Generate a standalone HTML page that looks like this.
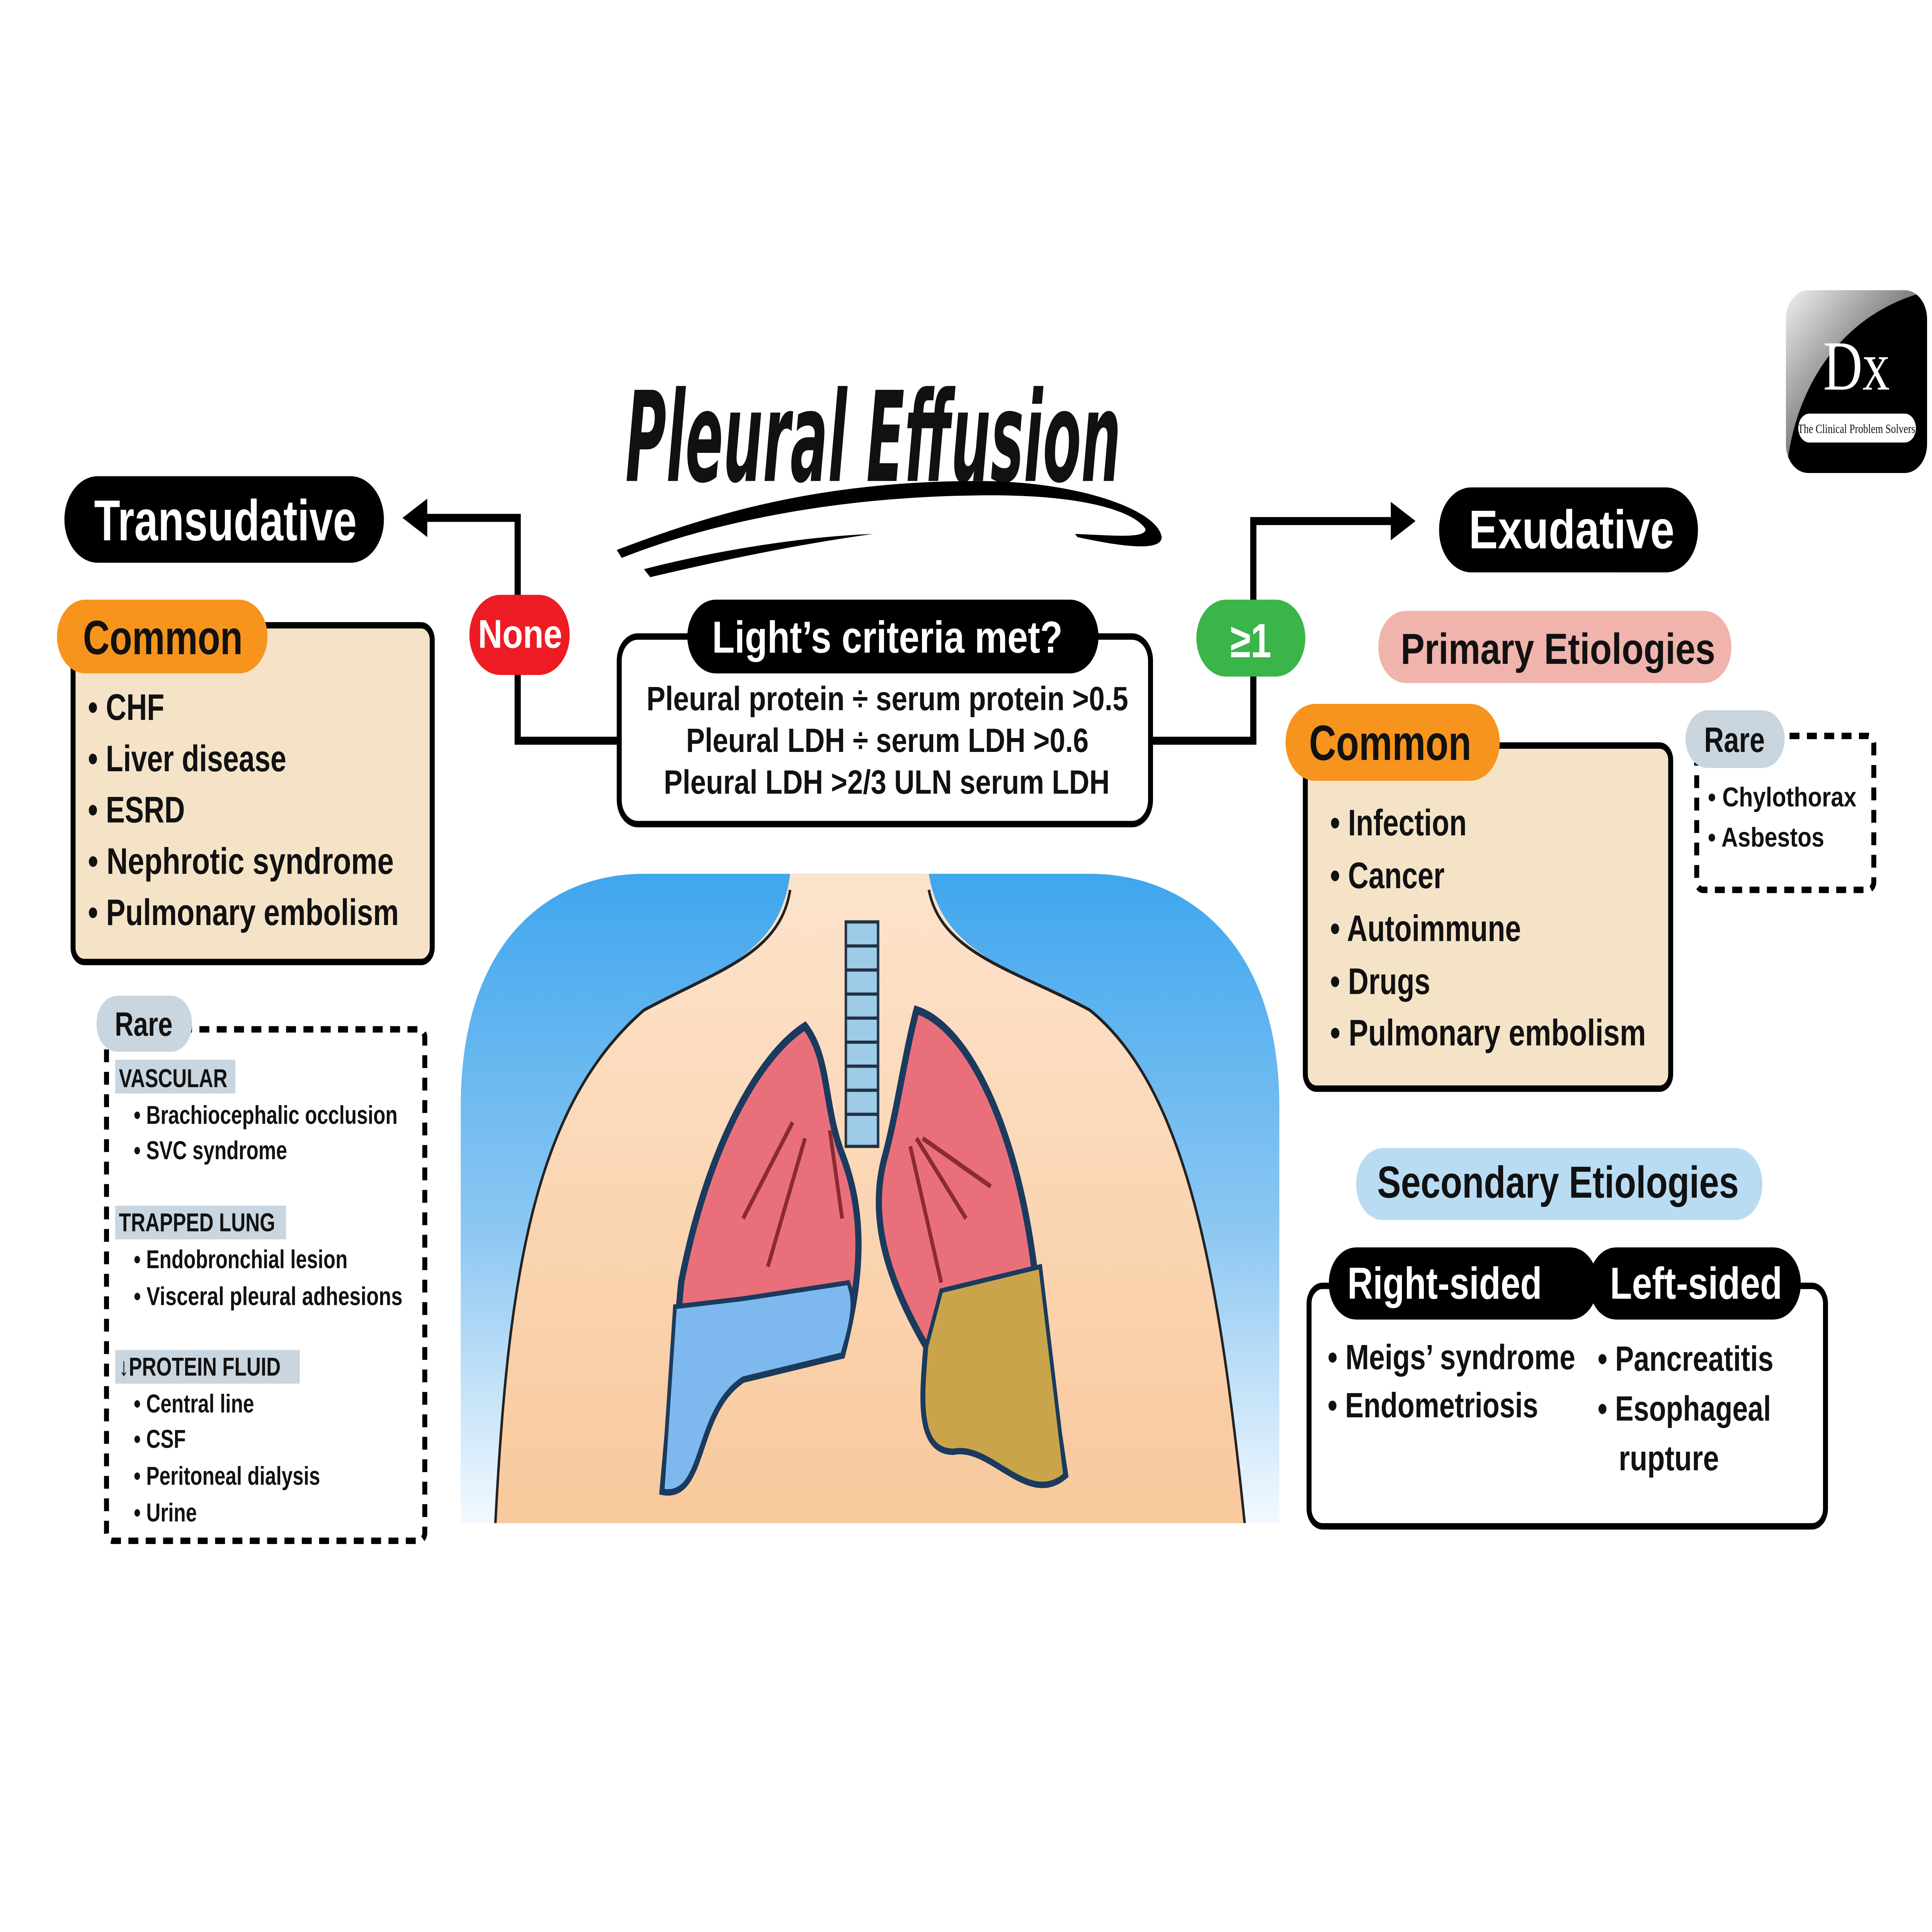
<!DOCTYPE html>
<html><head><meta charset="utf-8">
<style>
html,body{margin:0;padding:0;background:#fff;overflow:hidden;width:100vw;height:100vh}
svg{display:block;position:absolute;left:0;top:0;width:100vw;height:100vh}
text{font-family:"Liberation Sans",sans-serif;font-weight:bold;fill:#111}
.w{fill:#fff}
</style></head><body>
<svg viewBox="0 0 1560 1205" preserveAspectRatio="none" xmlns="http://www.w3.org/2000/svg">
<defs>
<linearGradient id="bg" x1="0" y1="0" x2="0" y2="1"><stop offset="0" stop-color="#3fa6ee"/><stop offset="0.55" stop-color="#8cc7f2"/><stop offset="1" stop-color="#f3f9fe"/></linearGradient>
<linearGradient id="sk" x1="0" y1="0" x2="0" y2="1"><stop offset="0" stop-color="#fde3cc"/><stop offset="1" stop-color="#f8c99c"/></linearGradient>
<linearGradient id="lg" x1="0" y1="0" x2="1" y2="1"><stop offset="0" stop-color="#f0f0f0"/><stop offset="0.5" stop-color="#777"/><stop offset="1" stop-color="#000"/></linearGradient>
<clipPath id="lc"><rect x="1442" y="181" width="114" height="114" rx="18"/></clipPath>
<clipPath id="bc"><path d="M372,950 L372,690 C372,590 440,545 520,545 L880,545 C960,545 1033,590 1033,690 L1033,950 Z"/></clipPath>
</defs>
<rect width="1560" height="1205" fill="#fff"/>

<!-- connectors -->
<polyline points="500,462 418,462 418,323 340,323" fill="none" stroke="#000" stroke-width="5"/>
<polygon points="325,323 345,311 345,335" fill="#000"/>
<polyline points="930,462 1012,462 1012,325 1128,325" fill="none" stroke="#000" stroke-width="5"/>
<polygon points="1143,325 1123,313 1123,337" fill="#000"/>

<!-- title -->
<text x="505" y="300" font-size="78" textLength="400" lengthAdjust="spacingAndGlyphs" style="font-family:'DejaVu Sans Condensed','DejaVu Sans',sans-serif;font-style:italic;font-weight:bold" fill="#000">Pleural Effusion</text>
<path d="M498,343 C560,325 650,300 790,300 C870,300 935,318 938,335 C938,345 900,340 870,335 L868,333 C900,334 925,336 925,330 C915,318 870,308 790,309 C660,310 560,330 502,348 Z" fill="#000"/>
<path d="M520,355 C570,345 640,335 705,333 C640,340 580,350 525,360 Z" fill="#000"/>

<!-- logo -->
<g clip-path="url(#lc)">
<rect x="1442" y="181" width="114" height="114" fill="url(#lg)"/>
<path d="M1442,300 C1445,250 1480,195 1560,181 L1560,300 Z" fill="#000"/>
</g>
<text x="1499" y="243" font-size="44" text-anchor="middle" class="w" style="font-family:'Liberation Serif',serif;font-weight:normal">Dx</text>
<rect x="1452" y="258" width="95" height="18" rx="9" fill="#fff"/>
<text x="1499" y="270" font-size="8" text-anchor="middle" style="font-family:'Liberation Serif',serif;font-weight:normal" fill="#000">The Clinical Problem Solvers</text>

<!-- Transudative -->
<rect x="52" y="297" width="258" height="54" rx="27" fill="#000"/>
<text x="76" y="337" font-size="36" textLength="212" lengthAdjust="spacingAndGlyphs" class="w">Transudative</text>
<rect x="59" y="390" width="290" height="210" rx="9" fill="#f5e3c8" stroke="#000" stroke-width="4"/>
<rect x="46" y="374" width="170" height="46" rx="23" fill="#f7941d"/>
<text x="67" y="408" font-size="30" textLength="129" lengthAdjust="spacingAndGlyphs">Common</text>
<g font-size="23">
<text x="71" y="449">• CHF</text>
<text x="71" y="481">• Liver disease</text>
<text x="71" y="513">• ESRD</text>
<text x="71" y="545" textLength="247" lengthAdjust="spacingAndGlyphs">• Nephrotic syndrome</text>
<text x="71" y="577" textLength="251" lengthAdjust="spacingAndGlyphs">• Pulmonary embolism</text>
</g>

<rect x="86" y="642" width="257" height="319" rx="5" fill="none" stroke="#000" stroke-width="4" stroke-dasharray="8,6"/>
<rect x="78" y="621" width="77" height="35" rx="17" fill="#c9d5df"/>
<text x="116" y="646" font-size="21" text-anchor="middle">Rare</text>
<g font-size="16">
<rect x="93" y="661" width="97" height="21" fill="#c9d5df"/>
<text x="96" y="678">VASCULAR</text>
<rect x="93" y="752" width="138" height="21" fill="#c9d5df"/>
<text x="96" y="768">TRAPPED LUNG</text>
<rect x="93" y="842" width="149" height="21" fill="#c9d5df"/>
<text x="96" y="858">↓PROTEIN FLUID</text>
</g>
<g font-size="16">
<text x="108" y="701" textLength="213" lengthAdjust="spacingAndGlyphs">• Brachiocephalic occlusion</text>
<text x="108" y="723">• SVC syndrome</text>
<text x="108" y="791">• Endobronchial lesion</text>
<text x="108" y="814" textLength="217" lengthAdjust="spacingAndGlyphs">• Visceral pleural adhesions</text>
<text x="108" y="881">• Central line</text>
<text x="108" y="903">• CSF</text>
<text x="108" y="926">• Peritoneal dialysis</text>
<text x="108" y="949">• Urine</text>
</g>

<!-- center -->
<rect x="500" y="397" width="429" height="117" rx="15" fill="#fff" stroke="#000" stroke-width="4"/>
<rect x="555" y="374" width="332" height="46" rx="23" fill="#000"/>
<text x="575" y="407" font-size="28" textLength="283" lengthAdjust="spacingAndGlyphs" class="w">Light’s criteria met?</text>
<g font-size="21">
<text x="522" y="443" textLength="389" lengthAdjust="spacingAndGlyphs">Pleural protein ÷ serum protein &gt;0.5</text>
<text x="554" y="469" textLength="325" lengthAdjust="spacingAndGlyphs">Pleural LDH ÷ serum LDH &gt;0.6</text>
<text x="536" y="495" textLength="360" lengthAdjust="spacingAndGlyphs">Pleural LDH &gt;2/3 ULN serum LDH</text>
</g>
<rect x="379" y="371" width="81" height="50" rx="25" fill="#ed1c24"/>
<text x="386" y="404" font-size="25" textLength="68" lengthAdjust="spacingAndGlyphs" class="w">None</text>
<rect x="966" y="374" width="88" height="48" rx="24" fill="#3ab54a"/>
<text x="1010" y="410" font-size="30" text-anchor="middle" class="w">≥1</text>

<!-- Exudative -->
<rect x="1162" y="304" width="209" height="53" rx="26" fill="#000"/>
<text x="1186" y="342" font-size="34" textLength="166" lengthAdjust="spacingAndGlyphs" class="w">Exudative</text>
<rect x="1113" y="381" width="285" height="45" rx="22" fill="#f0b4ac"/>
<text x="1131" y="414" font-size="27" textLength="254" lengthAdjust="spacingAndGlyphs">Primary Etiologies</text>
<rect x="1054" y="465" width="295" height="214" rx="9" fill="#f5e3c8" stroke="#000" stroke-width="4"/>
<rect x="1038" y="439" width="173" height="48" rx="24" fill="#f7941d"/>
<text x="1057" y="474" font-size="31" textLength="131" lengthAdjust="spacingAndGlyphs">Common</text>
<g font-size="23">
<text x="1074" y="521">• Infection</text>
<text x="1074" y="554">• Cancer</text>
<text x="1074" y="587">• Autoimmune</text>
<text x="1074" y="620">• Drugs</text>
<text x="1074" y="652" textLength="255" lengthAdjust="spacingAndGlyphs">• Pulmonary embolism</text>
</g>
<rect x="1370" y="459" width="143" height="96" rx="5" fill="none" stroke="#000" stroke-width="4" stroke-dasharray="8,6"/>
<rect x="1361" y="443" width="80" height="36" rx="18" fill="#c9d5df"/>
<text x="1376" y="469" font-size="22" textLength="49" lengthAdjust="spacingAndGlyphs">Rare</text>
<text x="1379" y="503" font-size="17" textLength="120" lengthAdjust="spacingAndGlyphs">• Chylothorax</text>
<text x="1379" y="528" font-size="17" textLength="94" lengthAdjust="spacingAndGlyphs">• Asbestos</text>

<rect x="1095" y="716" width="328" height="45" rx="22" fill="#b9dcf3"/>
<text x="1112" y="747" font-size="28" textLength="292" lengthAdjust="spacingAndGlyphs">Secondary Etiologies</text>
<rect x="1057" y="802" width="417" height="150" rx="11" fill="#fff" stroke="#000" stroke-width="4"/>
<rect x="1278" y="797" width="14" height="6" fill="#000"/>
<rect x="1073" y="778" width="217" height="45" rx="22" fill="#000"/>
<text x="1088" y="810" font-size="28" textLength="157" lengthAdjust="spacingAndGlyphs" class="w">Right-sided</text>
<rect x="1283" y="778" width="171" height="45" rx="22" fill="#000"/>
<text x="1300" y="810" font-size="28" textLength="139" lengthAdjust="spacingAndGlyphs" class="w">Left-sided</text>
<g font-size="22">
<text x="1072" y="854" textLength="200" lengthAdjust="spacingAndGlyphs">• Meigs’ syndrome</text>
<text x="1072" y="884" textLength="170" lengthAdjust="spacingAndGlyphs">• Endometriosis</text>
<text x="1290" y="855" textLength="142" lengthAdjust="spacingAndGlyphs">• Pancreatitis</text>
<text x="1290" y="886" textLength="140" lengthAdjust="spacingAndGlyphs">• Esophageal</text>
<text x="1307" y="917" textLength="81" lengthAdjust="spacingAndGlyphs">rupture</text>
</g>

<!-- illustration -->
<path d="M372,950 L372,690 C372,590 440,545 520,545 L880,545 C960,545 1033,590 1033,690 L1033,950 Z" fill="url(#bg)"/>
<g clip-path="url(#bc)">
<path d="M400,950 C410,800 430,690 520,630 C580,605 630,595 638,545 L750,545 C760,595 820,605 880,630 C960,680 985,800 1005,950 Z" fill="url(#sk)"/>
<path d="M400,950 C410,800 430,690 520,630 C580,605 630,595 638,555 M750,555 C760,595 820,605 880,630 C960,680 985,800 1005,950" fill="none" stroke="#222" stroke-width="2"/>
</g>
<rect x="683" y="575" width="26" height="140" fill="#9dcbe8" stroke="#234" stroke-width="2"/>
<g stroke="#234" stroke-width="2">
<line x1="683" y1="590" x2="709" y2="590"/><line x1="683" y1="605" x2="709" y2="605"/><line x1="683" y1="620" x2="709" y2="620"/><line x1="683" y1="635" x2="709" y2="635"/><line x1="683" y1="650" x2="709" y2="650"/><line x1="683" y1="665" x2="709" y2="665"/><line x1="683" y1="680" x2="709" y2="680"/><line x1="683" y1="695" x2="709" y2="695"/></g>
<path d="M650,640 C610,660 570,720 550,800 L535,930 C570,935 560,880 600,860 L680,845 C695,800 700,760 680,720 C665,690 670,660 650,640 Z" fill="#e9707a" stroke="#1a3a5e" stroke-width="5"/>
<path d="M545,815 L535,930 C570,935 560,880 600,860 L680,845 C690,820 690,810 685,800 L600,810 Z" fill="#7db9ee" stroke="#1a3a5e" stroke-width="3"/>
<path d="M740,630 C780,640 820,700 835,790 L860,920 C830,940 800,900 770,905 C740,905 745,870 748,840 C718,800 700,760 715,720 C725,690 730,660 740,630 Z" fill="#e9707a" stroke="#1a3a5e" stroke-width="5"/>
<path d="M760,805 L840,790 L860,920 C830,940 800,900 770,905 C740,905 745,870 748,840 Z" fill="#c9a44a" stroke="#1a3a5e" stroke-width="3"/>
<path d="M640,700 L600,760 M650,710 L620,790 M670,705 L680,760 M740,710 L780,760 M745,710 L800,740 M735,715 L760,800" stroke="#8b2a35" stroke-width="3" fill="none"/>
</svg>
</body></html>
